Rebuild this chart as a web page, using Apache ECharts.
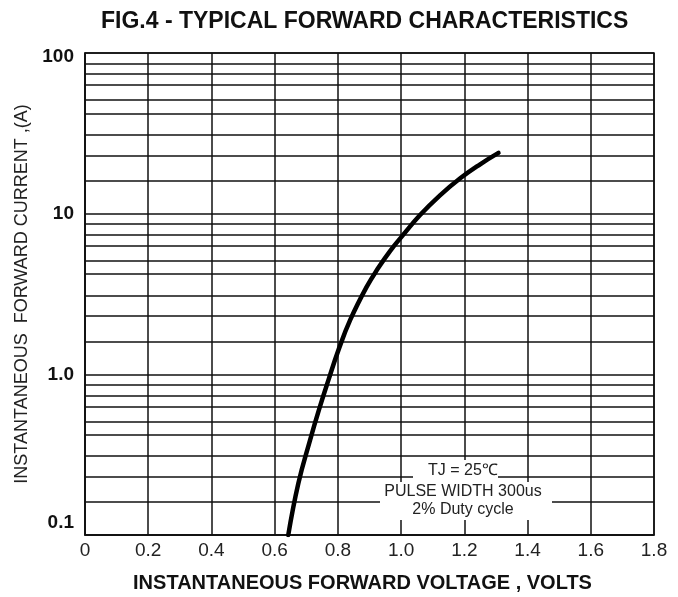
<!DOCTYPE html>
<html>
<head>
<meta charset="utf-8">
<script src="https://cdn.jsdelivr.net/npm/echarts@6/dist/echarts.min.js"></script>
<style>
html,body{margin:0;padding:0;background:#fff;}
#chart{width:678px;height:597px;}
</style>
</head>
<body>
<div id="chart"></div>
<script>
// Curve data
const voltage = [0.643, 0.675, 0.712, 0.741, 0.770, 0.802, 0.839, 0.891, 0.928, 0.965, 1.007, 1.060, 1.123, 1.187, 1.250, 1.308];
const current = [0.1, 0.21, 0.39, 0.61, 0.92, 1.42, 2.18, 3.5, 4.6, 5.85, 7.4, 9.8, 13.0, 16.6, 20.3, 23.9];

// Tick labels
const xTickValues = [0, 0.2, 0.4, 0.6, 0.8, 1.0, 1.2, 1.4, 1.6, 1.8];
const xTickLabels = ['0', '0.2', '0.4', '0.6', '0.8', '1.0', '1.2', '1.4', '1.6', '1.8'];
const yTickValues = [0.1, 1, 10, 100];
const yTickLabels = ['0.1', '1.0', '10', '100'];

// Minor horizontal grid lines as drawn in the picture
const minorGridY = [
  0.16, 0.23, 0.31, 0.42, 0.51, 0.63, 0.74, 0.86,
  1.6, 2.3, 3.1, 4.2, 5.1, 6.3, 7.4, 8.6,
  16, 23, 31, 42, 51, 63, 74, 86
];

// Annotation text
const noteLines = ['TJ = 25\u2103', 'PULSE WIDTH 300us', '2% Duty cycle'];

const chart = echarts.init(document.getElementById('chart'), null, {renderer: 'canvas'});

const curveData = voltage.map((v, i) => [v, current[i]]);
const lineCol = '#111';
const FF = 'Liberation Sans, Arial, sans-serif';

const option = {
  backgroundColor: '#fff',
  animation: false,
  title: {
    text: 'FIG.4 - TYPICAL FORWARD CHARACTERISTICS',
    left: 96,
    top: 5,
    textStyle: {fontFamily: FF, fontWeight: 'bold', fontSize: 23, color: '#111'}
  },
  grid: {
    left: 85, right: 24, top: 53, bottom: 62,
    containLabel: false,
    outerBoundsMode: 'none',
    show: true, borderColor: lineCol, borderWidth: 1.5, backgroundColor: '#fff'
  },
  xAxis: {
    type: 'value',
    min: 0, max: 1.8, interval: 0.2,
    name: 'INSTANTANEOUS FORWARD VOLTAGE , VOLTS',
    nameLocation: 'middle',
    nameGap: 38,
    nameTextStyle: {fontFamily: FF, fontWeight: 'bold', fontSize: 20, color: '#111', padding: [0, 14, 0, 0]},
    axisLine: {show: true, lineStyle: {color: lineCol, width: 1.5}},
    axisTick: {show: false},
    axisLabel: {
      margin: 6,
      fontFamily: FF, fontSize: 19, color: '#222',
      formatter: function (v) {
        const i = xTickValues.findIndex(t => Math.abs(t - v) < 1e-6);
        return i >= 0 ? xTickLabels[i] : '';
      }
    },
    splitLine: {show: true, lineStyle: {color: lineCol, width: 1.5}}
  },
  yAxis: {
    type: 'log',
    logBase: 10,
    min: 0.1, max: 100,
    name: 'INSTANTANEOUS  FORWARD CURRENT ,(A)',
    nameLocation: 'middle',
    nameGap: 52,
    nameTextStyle: {fontFamily: FF, fontSize: 18, color: '#222'},
    axisLine: {show: true, lineStyle: {color: lineCol, width: 1.5}},
    axisTick: {show: false},
    axisLabel: {
      margin: 11,
      fontFamily: FF, fontWeight: 'bold', fontSize: 19, color: '#111',
      formatter: function (v) {
        const i = yTickValues.findIndex(t => Math.abs(Math.log10(t) - Math.log10(v)) < 1e-6);
        if (i < 0) return '';
        if (i === 0) return '{lo|' + yTickLabels[i] + '}';
        if (i === yTickValues.length - 1) return '{hi|' + yTickLabels[i] + '}';
        return yTickLabels[i];
      },
      rich: {
        lo: {fontFamily: FF, fontWeight: 'bold', fontSize: 19, color: '#111', padding: [0, 0, 24, 0]},
        hi: {fontFamily: FF, fontWeight: 'bold', fontSize: 19, color: '#111', padding: [8, 0, 0, 0]}
      }
    },
    splitLine: {show: true, lineStyle: {color: lineCol, width: 1.5}}
  },
  series: [{
    type: 'line',
    data: curveData,
    smooth: 0.45,
    showSymbol: false,
    symbol: 'none',
    z: 5,
    lineStyle: {color: '#000', width: 4.5, cap: 'round'},
    markLine: {
      silent: true,
      symbol: ['none', 'none'],
      label: {show: false},
      z: 1,
      lineStyle: {color: lineCol, width: 1.5, type: 'solid'},
      data: minorGridY.map(v => ({yAxis: v}))
    }
  }],
  graphic: [
    {type: 'rect', z: 100, shape: {x: 413, y: 460, width: 85, height: 22}, style: {fill: '#fff'}},
    {type: 'rect', z: 100, shape: {x: 380, y: 482, width: 172, height: 38}, style: {fill: '#fff'}},
    {type: 'text', z: 101, x: 463, y: 471, style: {text: noteLines[0], fontFamily: FF, fontSize: 16, fill: '#222', align: 'center', verticalAlign: 'middle'}},
    {type: 'text', z: 101, x: 463, y: 492, style: {text: noteLines[1], fontFamily: FF, fontSize: 16, fill: '#222', align: 'center', verticalAlign: 'middle'}},
    {type: 'text', z: 101, x: 463, y: 510, style: {text: noteLines[2], fontFamily: FF, fontSize: 16, fill: '#222', align: 'center', verticalAlign: 'middle'}}
  ]
};

chart.setOption(option);
</script>
</body>
</html>
